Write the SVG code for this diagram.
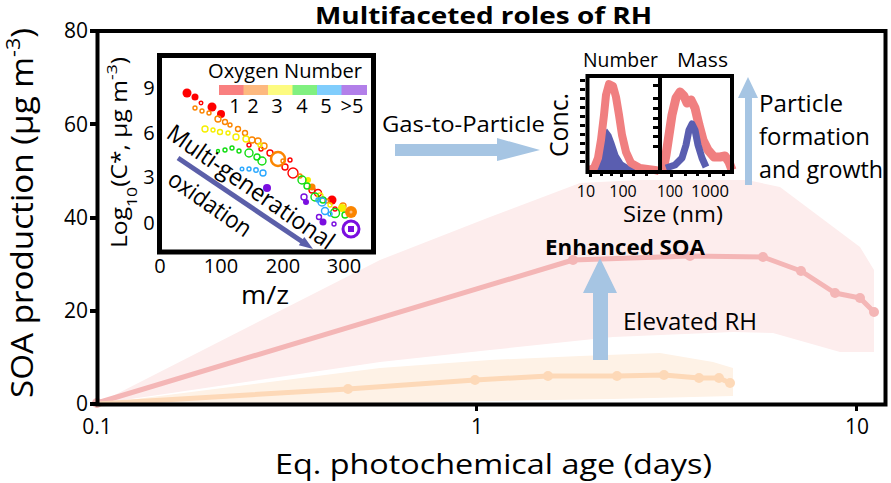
<svg xmlns="http://www.w3.org/2000/svg" width="891" height="483" viewBox="0 0 891 483">
<style>
.t{font-family:"Open Sans","Liberation Sans",sans-serif;fill:#000}
.b{font-weight:bold}
.mid{text-anchor:middle}
.end{text-anchor:end}
.frame{fill:none;stroke:#000;stroke-width:4}
.pk{fill:none;stroke:#f4b6b6;stroke-width:5;stroke-linejoin:round}
.pkd{fill:#f4b6b6}
.or{fill:none;stroke:#fdd9b8;stroke-width:5;stroke-linejoin:round}
.ord{fill:#fdd9b8}
.blk{fill:#a6c5e3}
.o{fill:none;stroke-width:1.4}
.R{fill:#ff0000}.Ro{stroke:#ff0000}
.O{fill:#fb8500}.Oo{stroke:#fb8500}
.Y{fill:#f5ef00}.Yo{stroke:#f5ef00}
.G{fill:#10dd10}.Go{stroke:#10dd10}
.B{fill:#2aa8ff}.Bo{stroke:#2aa8ff}
.P{fill:#7a0ee0}.Po{stroke:#7a0ee0}
</style>
<rect width="891" height="483" fill="#fff"/>

<g id="title"><text class="t b mid" x="483.5" y="24" font-size="24" textLength="337" lengthAdjust="spacingAndGlyphs">Multifaceted roles of RH</text></g>

<g id="main-plot">
<polygon fill="#fdeded" points="97,404 380,260 490,217 580,183 640,180 747,180 780,187 860,247 874,270 874,352 840,352 773,333 733,332 613,337 490,350 380,362"/>
<polygon fill="#fef2e6" points="97,404 380,368 490,360 580,356 660,353 713,362 733,368 733,396 613,399 380,403 97,405"/>
<polyline class="pk" points="97,403 573,260 690,256 763,257 801,271 835,293 860,298 874,312"/>
<g class="pkd"><circle cx="97" cy="403" r="5"/><circle cx="573" cy="260" r="5"/><circle cx="690" cy="256" r="5"/><circle cx="763" cy="257" r="5"/><circle cx="801" cy="271" r="5"/><circle cx="835" cy="293" r="5"/><circle cx="860" cy="298" r="5"/><circle cx="874" cy="312" r="5"/></g>
<polyline class="or" points="97,404 348,389 475,380 548,376 617,376 664,375 699,378 719,378 730,383"/>
<g class="ord"><circle cx="348" cy="389" r="5"/><circle cx="475" cy="380" r="5"/><circle cx="548" cy="376" r="5"/><circle cx="617" cy="376" r="5"/><circle cx="664" cy="375" r="5"/><circle cx="699" cy="378" r="5"/><circle cx="719" cy="378" r="5"/><circle cx="730" cy="383" r="5"/></g>
<rect class="frame" x="97.5" y="31" width="788" height="373.5"/>
<g fill="#000"><rect x="90" y="29" width="6" height="4"/><rect x="90" y="122" width="6" height="4"/><rect x="90" y="216" width="6" height="4"/><rect x="90" y="309" width="6" height="4"/><rect x="90" y="402" width="6" height="4"/><rect x="475" y="404" width="3" height="7"/><rect x="855" y="404" width="3" height="7"/></g>
<g class="t end" font-size="21"><text x="88" y="38">80</text><text x="88" y="132">60</text><text x="88" y="225">40</text><text x="88" y="318">20</text><text x="88" y="411">0</text></g>
<g class="t mid" font-size="21"><text x="97" y="434">0.1</text><text x="477" y="434">1</text><text x="857" y="434">10</text></g>
<text class="t mid" x="493.5" y="474" font-size="28" textLength="437" lengthAdjust="spacingAndGlyphs">Eq. photochemical age (days)</text>
<text class="t mid" transform="translate(33,213) rotate(-90)" font-size="31" textLength="370" lengthAdjust="spacingAndGlyphs">SOA production (μg m<tspan font-size="20" baseline-shift="super">-3</tspan>)</text>
</g>

<g id="inset-volatility">
<rect x="159.5" y="55.5" width="214" height="196.5" fill="#fff" stroke="#000" stroke-width="5"/>
<text class="t" x="208" y="78" font-size="20" textLength="154" lengthAdjust="spacingAndGlyphs">Oxygen Number</text>
<rect x="219" y="85" width="25" height="10" fill="#f98080"/>
<rect x="243.5" y="85" width="25" height="10" fill="#fdb97f"/>
<rect x="268" y="85" width="25" height="10" fill="#fdfb80"/>
<rect x="292.5" y="85" width="25" height="10" fill="#80f080"/>
<rect x="317" y="85" width="25" height="10" fill="#80cdfc"/>
<rect x="341.5" y="85" width="25.5" height="10" fill="#b27fe9"/>
<g class="t mid" font-size="20"><text x="235" y="113">1</text><text x="253" y="113">2</text><text x="277" y="113">3</text><text x="302" y="113">4</text><text x="326" y="113">5</text><text x="352" y="113">&gt;5</text></g>
<g class="t mid" font-size="20"><text x="149" y="95">9</text><text x="149" y="140">6</text><text x="149" y="184">3</text><text x="149" y="230">0</text></g>
<g class="t mid" font-size="20"><text x="160" y="273">0</text><text x="221" y="273">100</text><text x="283" y="273">200</text><text x="344" y="273">300</text></g>
<text class="t mid" x="265" y="304" font-size="26" textLength="48" lengthAdjust="spacingAndGlyphs">m/z</text>
<text class="t mid" transform="translate(127,152.5) rotate(-90)" font-size="21" textLength="191" lengthAdjust="spacingAndGlyphs">Log<tspan font-size="15" baseline-shift="sub">10</tspan>(C*, μg m<tspan font-size="15" baseline-shift="super">-3</tspan>)</text>
<g id="scatter">
<circle class="R" cx="187" cy="93" r="4.5"/><circle class="R" cx="195" cy="97" r="3.5"/><circle class="o Ro" cx="201" cy="103" r="1.8"/><circle class="R" cx="212" cy="107" r="4.5"/><circle class="R" cx="221" cy="114" r="4"/><circle class="R" cx="332" cy="200" r="4.5"/>
<circle class="o Ro" cx="270" cy="153" r="3"/><circle class="o Ro" cx="285" cy="167" r="3"/><circle class="o Ro" cx="293" cy="173" r="5"/><circle class="o Ro" cx="261" cy="149" r="2"/><circle class="o Ro" cx="249" cy="145" r="2"/><circle class="o Ro" cx="312" cy="190" r="3"/><circle class="o Ro" cx="318" cy="193" r="3.5"/><circle class="o Ro" cx="335" cy="209" r="2"/><circle class="o Ro" cx="290" cy="160" r="2"/>
<circle class="o Oo" cx="195" cy="108" r="2"/><circle class="o Oo" cx="202" cy="111" r="2"/><circle class="o Oo" cx="209" cy="113" r="2"/><circle class="o Oo" cx="218" cy="119" r="3"/><circle class="o Oo" cx="225" cy="122" r="2.5"/><circle class="o Oo" cx="230" cy="125" r="2"/><circle class="o Oo" cx="238" cy="129" r="2.5"/><circle class="o Oo" cx="245" cy="133" r="2.5"/><circle class="o Oo" cx="252" cy="140" r="3"/><circle class="o Oo" cx="258" cy="141" r="3"/><circle class="o Oo" cx="264" cy="146" r="3"/><circle cx="278" cy="159" r="7" fill="none" stroke="#fb8500" stroke-width="2.5"/><circle class="o Oo" cx="300" cy="176" r="2"/><circle class="O" cx="312" cy="187" r="3.5"/><circle class="o Oo" cx="343" cy="206" r="3"/><circle class="o Oo" cx="327" cy="201" r="2"/><circle class="o Oo" cx="283" cy="161" r="2"/>
<circle class="o Yo" cx="205" cy="129" r="3"/><circle class="o Yo" cx="213" cy="130" r="2"/><circle class="o Yo" cx="220" cy="132" r="2.5"/><circle class="o Yo" cx="228" cy="133" r="2"/><circle class="o Yo" cx="236" cy="137" r="3"/><circle class="o Yo" cx="246" cy="139" r="3"/><circle class="o Yo" cx="260" cy="145" r="2"/><circle class="Y" cx="308" cy="180" r="3"/><circle class="Y" cx="342" cy="208" r="4"/><circle class="o Yo" cx="320" cy="196" r="3"/><circle class="o Yo" cx="330" cy="205" r="2"/>
<circle class="o Go" cx="218" cy="151" r="1.5"/><circle class="o Go" cx="225" cy="150" r="2"/><circle class="o Go" cx="232" cy="148" r="2"/><circle class="o Go" cx="239" cy="151" r="2"/><circle class="o Go" cx="249" cy="153" r="4"/><circle class="o Go" cx="257" cy="157" r="3"/><circle class="o Go" cx="262" cy="161" r="4"/><circle class="o Go" cx="302" cy="180" r="4"/><circle class="o Go" cx="307" cy="186" r="3"/><circle class="o Go" cx="315" cy="197" r="4"/><circle class="o Go" cx="323" cy="200" r="3"/><circle class="o Go" cx="335" cy="213" r="4.5"/><circle class="o Go" cx="345" cy="215" r="3"/>
<circle class="o Bo" cx="242" cy="169" r="1.8"/><circle class="o Bo" cx="249" cy="169" r="2"/><circle class="o Bo" cx="256" cy="170" r="2.2"/><circle class="o Bo" cx="263" cy="173" r="3"/><circle class="o Bo" cx="322" cy="202" r="4"/><circle class="o Bo" cx="325" cy="211" r="3.5"/><circle class="o Bo" cx="330" cy="214" r="2"/><circle class="o Bo" cx="318" cy="200" r="2"/>
<circle cx="351" cy="212" r="6" fill="#fb8500"/><circle cx="351" cy="212" r="1.5" fill="#ffc080"/>
<circle class="P" cx="267" cy="188" r="4"/><circle class="o Po" cx="304" cy="197" r="3"/><circle class="P" cx="306" cy="202" r="3"/><circle class="o Po" cx="319" cy="217" r="2.5"/><circle class="P" cx="323" cy="222" r="3.5"/><circle class="o Po" cx="334" cy="224" r="2"/>
<circle cx="351" cy="229" r="8" fill="none" stroke="#7a0ee0" stroke-width="3"/><rect x="348" y="226" width="6" height="6" fill="#7a0ee0"/>
</g>
<text class="t" transform="translate(165,137) rotate(35)" font-size="24" textLength="198" lengthAdjust="spacingAndGlyphs">Multi-generational</text>
<text class="t" transform="translate(166,183) rotate(35)" font-size="24" textLength="96" lengthAdjust="spacingAndGlyphs">oxidation</text>
</g>

<g id="inset-size">
<text class="t" x="583" y="67" font-size="20" textLength="75" lengthAdjust="spacingAndGlyphs">Number</text>
<text class="t" x="677" y="67" font-size="20" textLength="51" lengthAdjust="spacingAndGlyphs">Mass</text>
<rect x="587.5" y="76" width="72.5" height="96" fill="#fff"/>
<rect x="660" y="76" width="72" height="96" fill="#fff"/>
<path d="M598,171 L600,160 L602,145 L604,135 L607,131 L610,135 L613,143 L617,155 L622,163 L630,168 L655,170 L655,171 Z" fill="#5a5eb0" stroke="#5a5eb0" stroke-width="3"/>
<path d="M589,170 L594,168 L598,158 L601,140 L604,115 L606,95 L609,84 L613,86 L616,97 L619,115 L622,135 L626,152 L631,163 L640,168 L655,170 L659,171" fill="none" stroke="#f07f80" stroke-width="8" stroke-linejoin="round"/>
<path d="M663,170 L666,155 L669,135 L672,115 L676,98 L680,92 L684,96 L687,103 L691,100 L695,108 L699,125 L703,140 L708,150 L714,157 L720,157 L725,156 L729,162 L732,170" fill="none" stroke="#f07f80" stroke-width="9" stroke-linejoin="round"/>
<path d="M666,168 L675,165 L682,158 L686,145 L689,130 L692,124 L695,130 L698,145 L702,158 L706,167" fill="none" stroke="#5a5eb0" stroke-width="7" stroke-linejoin="round"/>
<rect class="frame" x="587.5" y="76" width="72.5" height="96"/>
<rect class="frame" x="660" y="76" width="72" height="96"/>
<g fill="#000"><rect x="580" y="79" width="5" height="3"/><rect x="580" y="88" width="5" height="3"/><rect x="580" y="97" width="5" height="3"/><rect x="580" y="106" width="5" height="3"/><rect x="580" y="115" width="5" height="3"/><rect x="580" y="124" width="5" height="3"/><rect x="580" y="133" width="5" height="3"/><rect x="580" y="142" width="5" height="3"/><rect x="580" y="151" width="5" height="3"/><rect x="580" y="160" width="5" height="3"/>
<rect x="653" y="84" width="5" height="3"/><rect x="653" y="97" width="5" height="3"/><rect x="653" y="107" width="5" height="3"/><rect x="653" y="117" width="5" height="3"/><rect x="653" y="126" width="5" height="3"/><rect x="653" y="135" width="5" height="3"/><rect x="653" y="145" width="5" height="3"/>
<rect x="589" y="172" width="3" height="5"/><rect x="600" y="172" width="3" height="4"/><rect x="610" y="172" width="3" height="4"/><rect x="620" y="172" width="3" height="5"/><rect x="632" y="172" width="3" height="4"/><rect x="645" y="172" width="3" height="4"/><rect x="670" y="172" width="3" height="5"/><rect x="684" y="172" width="3" height="4"/><rect x="696" y="172" width="3" height="4"/><rect x="708" y="172" width="3" height="5"/><rect x="722" y="172" width="3" height="4"/></g>
<g class="t mid" font-size="16"><text x="586" y="197">10</text><text x="623" y="197">100</text><text x="670" y="197" textLength="26" lengthAdjust="spacingAndGlyphs">100</text><text x="710" y="197" textLength="38" lengthAdjust="spacingAndGlyphs">1000</text></g>
<text class="t mid" x="673" y="222" font-size="22" textLength="100" lengthAdjust="spacingAndGlyphs">Size (nm)</text>
<text class="t mid" transform="translate(568,125) rotate(-90)" font-size="26" textLength="64" lengthAdjust="spacingAndGlyphs">Conc.</text>
</g>

<g id="labels">
<text class="t" x="382" y="132" font-size="22" textLength="163" lengthAdjust="spacingAndGlyphs">Gas-to-Particle</text>
<text class="t" x="759" y="112" font-size="24" textLength="84" lengthAdjust="spacingAndGlyphs">Particle</text>
<text class="t" x="759" y="145" font-size="24" textLength="111" lengthAdjust="spacingAndGlyphs">formation</text>
<text class="t" x="759" y="178" font-size="24" textLength="124" lengthAdjust="spacingAndGlyphs">and growth</text>
<text class="t b" x="545" y="255" font-size="22" textLength="160" lengthAdjust="spacingAndGlyphs">Enhanced SOA</text>
<text class="t" x="623" y="330" font-size="24" textLength="134" lengthAdjust="spacingAndGlyphs">Elevated RH</text>
</g>

<g id="connectors">
<polygon class="blk" points="395,144 497,144 497,138 540,150 497,161 497,156 395,156"/>
<polygon class="blk" points="593,360 593,293 583,293 600,258 617,293 608,293 608,360"/>
<polygon class="blk" points="745,185 745,98 738,98 748,77 758,98 752,98 752,185"/>
<line x1="178" y1="158" x2="302" y2="241.5" stroke="#5b5fa9" stroke-width="5"/>
<polygon fill="#5b5fa9" points="313,249 298.8,245.3 304.3,237.1"/>
</g>
</svg>
